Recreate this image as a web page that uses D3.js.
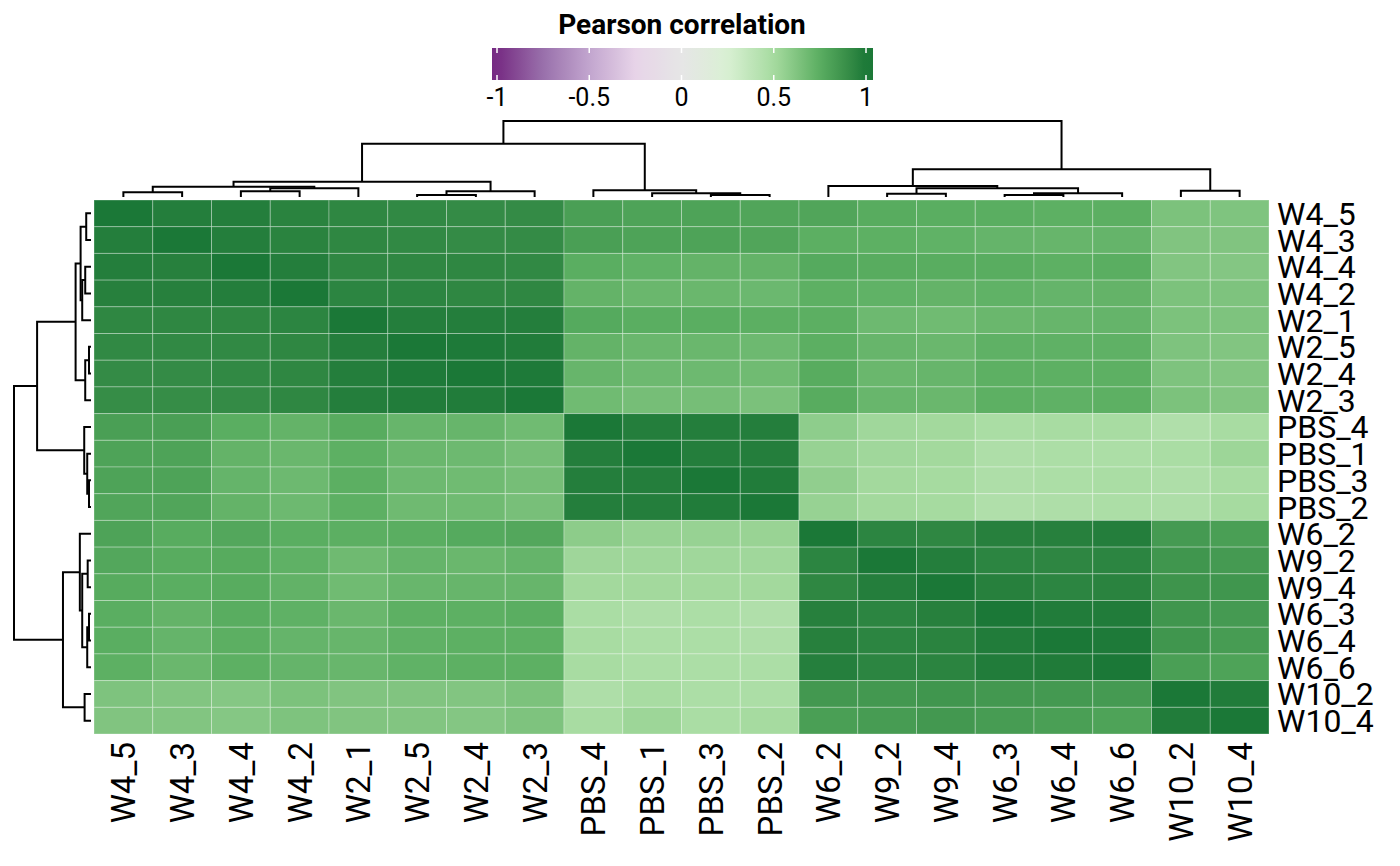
<!DOCTYPE html>
<html>
<head>
<meta charset="utf-8">
<script src="https://cdn.jsdelivr.net/npm/d3@7"></script>
<style>
  body { margin: 0; background: #fff; }
  text { font-family: Roboto, "Noto Sans", sans-serif; fill: #000; }
</style>
</head>
<body>
<div id="chart"></div>
<script>
// sample order (rows and columns share the clustered order)
var samples = ["W4_5", "W4_3", "W4_4", "W4_2", "W2_1", "W2_5", "W2_4", "W2_3",
               "PBS_4", "PBS_1", "PBS_3", "PBS_2",
               "W6_2", "W9_2", "W9_4", "W6_3", "W6_4", "W6_6", "W10_2", "W10_4"]

// correlation matrix, row by row
var corValues = [
  [1.00,0.97,0.97,0.95,0.93,0.92,0.91,0.91,0.82,0.80,0.80,0.79,0.79,0.76,0.75,0.75,0.74,0.745,0.64,0.63],
  [0.97,1.00,0.97,0.95,0.93,0.92,0.91,0.91,0.82,0.80,0.80,0.79,0.745,0.74,0.73,0.715,0.71,0.715,0.625,0.625],
  [0.97,0.96,1.00,0.97,0.93,0.93,0.93,0.92,0.75,0.73,0.72,0.72,0.77,0.76,0.755,0.755,0.74,0.75,0.62,0.615],
  [0.96,0.96,0.97,1.00,0.94,0.94,0.93,0.93,0.72,0.70,0.70,0.695,0.74,0.73,0.72,0.73,0.715,0.72,0.64,0.635],
  [0.93,0.93,0.93,0.94,1.00,0.97,0.97,0.97,0.77,0.75,0.75,0.745,0.745,0.69,0.68,0.70,0.71,0.715,0.64,0.635],
  [0.92,0.92,0.92,0.93,0.97,1.00,0.99,0.98,0.72,0.70,0.70,0.69,0.745,0.71,0.70,0.735,0.735,0.735,0.635,0.62],
  [0.91,0.91,0.92,0.93,0.97,0.99,1.00,0.99,0.71,0.69,0.69,0.68,0.76,0.70,0.71,0.74,0.74,0.74,0.635,0.62],
  [0.90,0.90,0.91,0.93,0.97,0.98,0.98,1.00,0.68,0.66,0.66,0.645,0.76,0.705,0.70,0.74,0.735,0.74,0.64,0.62],
  [0.82,0.82,0.75,0.72,0.76,0.71,0.71,0.68,1.00,0.97,0.97,0.97,0.58,0.52,0.51,0.48,0.49,0.49,0.45,0.49],
  [0.80,0.80,0.72,0.70,0.74,0.70,0.69,0.66,0.97,1.00,0.97,0.97,0.55,0.52,0.51,0.46,0.47,0.47,0.48,0.53],
  [0.80,0.80,0.715,0.69,0.745,0.69,0.68,0.66,0.97,0.97,1.00,0.98,0.57,0.51,0.50,0.46,0.47,0.48,0.46,0.49],
  [0.79,0.79,0.72,0.69,0.74,0.685,0.68,0.655,0.97,0.97,0.98,1.00,0.55,0.51,0.50,0.45,0.46,0.47,0.46,0.50],
  [0.80,0.76,0.78,0.75,0.745,0.75,0.77,0.78,0.585,0.55,0.55,0.545,1.00,0.94,0.93,0.96,0.96,0.97,0.84,0.82],
  [0.78,0.76,0.765,0.735,0.685,0.715,0.70,0.715,0.525,0.52,0.52,0.52,0.94,1.00,0.97,0.94,0.935,0.94,0.86,0.84],
  [0.765,0.75,0.76,0.725,0.68,0.705,0.71,0.71,0.51,0.51,0.51,0.51,0.93,0.97,1.00,0.96,0.94,0.95,0.87,0.86],
  [0.75,0.72,0.755,0.735,0.70,0.74,0.74,0.75,0.48,0.46,0.47,0.45,0.96,0.94,0.96,1.00,0.98,0.98,0.86,0.84],
  [0.75,0.715,0.745,0.715,0.71,0.735,0.74,0.74,0.49,0.47,0.47,0.46,0.96,0.94,0.95,0.98,1.00,0.99,0.86,0.83],
  [0.74,0.70,0.74,0.715,0.705,0.73,0.74,0.74,0.49,0.47,0.47,0.47,0.965,0.94,0.945,0.98,0.985,1.00,0.82,0.80],
  [0.635,0.62,0.61,0.64,0.625,0.625,0.62,0.64,0.46,0.49,0.47,0.47,0.85,0.85,0.86,0.85,0.845,0.84,1.00,0.98],
  [0.625,0.62,0.61,0.635,0.625,0.62,0.615,0.635,0.49,0.53,0.48,0.50,0.82,0.83,0.85,0.83,0.82,0.80,0.98,1.00]
]

// hierarchical clustering merges: [child A, child B, merge height]
// children are sample names or "m" + index of an earlier merge
var merges = [
  ["W4_5", "W4_3", 0.062],   // m0
  ["W4_4", "W4_2", 0.075],   // m1
  ["m1", "W2_1", 0.114],     // m2
  ["m0", "m2", 0.135],       // m3
  ["W2_5", "W2_4", 0.026],   // m4
  ["m4", "W2_3", 0.075],     // m5
  ["m3", "m5", 0.20],        // m6
  ["PBS_3", "PBS_2", 0.026], // m7
  ["PBS_1", "m7", 0.049],    // m8
  ["PBS_4", "m8", 0.088],    // m9
  ["m6", "m9", 0.70],        // m10
  ["W9_2", "W9_4", 0.043],   // m11
  ["W6_3", "W6_4", 0.026],   // m12
  ["m12", "W6_6", 0.049],    // m13
  ["m11", "m13", 0.114],     // m14
  ["W6_2", "m14", 0.145],    // m15
  ["W10_2", "W10_4", 0.083], // m16
  ["m15", "m16", 0.364],     // m17
  ["m10", "m17", 1.0]        // m18
]

var legendTicks = [-1, -0.5, 0, 0.5, 1]
var colorStops = [-1, -0.75, -0.5, -0.25, 0, 0.25, 0.5, 0.75, 1]
var colorRange = ["#762a83", "#9970ab", "#c2a5cf", "#e7d4e8", "#e6e6e6", "#d9f0d3", "#a6dba0", "#5aae61", "#1b7837"]

var width = 1400, height = 866

var svg = d3.select("#chart").append("svg")
  .attr("width", width)
  .attr("height", height)

var color = d3.scaleLinear()
  .domain(colorStops)
  .range(colorRange)
  .interpolate(d3.interpolateLab)
  .clamp(true)

var x = d3.scaleBand().domain(samples).range([94, 1269])
var y = d3.scaleBand().domain(samples).range([200, 734])

// heatmap cells
var cells = []
corValues.forEach(function(row, i) {
  row.forEach(function(v, j) {
    cells.push({ r: samples[i], c: samples[j], v: v })
  })
})

svg.append("g")
  .selectAll("rect")
  .data(cells).enter()
  .append("rect")
  .attr("x", function(d) { return x(d.c) })
  .attr("y", function(d) { return y(d.r) })
  .attr("width", x.bandwidth())
  .attr("height", y.bandwidth())
  .attr("fill", function(d) { return color(d.v) })
  .attr("stroke", "#ffffff")
  .attr("stroke-opacity", 0.3)
  .attr("stroke-width", 1)

// dendrogram node positions
function nodeInfo(name, scale) {
  if (name.charAt(0) == "m" && !isNaN(+name.slice(1))) {
    var m = merges[+name.slice(1)]
    var a = nodeInfo(m[0], scale), b = nodeInfo(m[1], scale)
    return { p: (a.p + b.p) / 2, h: m[2] }
  }
  return { p: scale(name) + scale.bandwidth() / 2, h: 0 }
}

var hTop = d3.scaleLinear().domain([0, 1]).range([197, 121])
var hLeft = d3.scaleLinear().domain([0, 1]).range([91, 14])

svg.append("g")
  .selectAll("path")
  .data(merges).enter()
  .append("path")
  .attr("d", function(m) {
    var a = nodeInfo(m[0], x), b = nodeInfo(m[1], x)
    return "M" + a.p + "," + hTop(a.h) + "V" + hTop(m[2]) + "H" + b.p + "V" + hTop(b.h)
  })
  .attr("fill", "none")
  .attr("stroke", "#000")
  .attr("stroke-width", 2)

svg.append("g")
  .selectAll("path")
  .data(merges).enter()
  .append("path")
  .attr("d", function(m) {
    var a = nodeInfo(m[0], y), b = nodeInfo(m[1], y)
    return "M" + hLeft(a.h) + "," + a.p + "H" + hLeft(m[2]) + "V" + b.p + "H" + hLeft(b.h)
  })
  .attr("fill", "none")
  .attr("stroke", "#000")
  .attr("stroke-width", 2)

// row labels
svg.append("g")
  .selectAll("text")
  .data(samples).enter()
  .append("text")
  .attr("x", 1277)
  .attr("y", function(d) { return y(d) + y.bandwidth() / 2 })
  .attr("dy", "0.36em")
  .style("font-size", "32px")
  .text(function(d) { return d })

// column labels
svg.append("g")
  .selectAll("text")
  .data(samples).enter()
  .append("text")
  .attr("transform", function(d) { return "translate(" + (x(d) + x.bandwidth() / 2) + ",742) rotate(-90)" })
  .attr("dy", "0.36em")
  .attr("text-anchor", "end")
  .style("font-size", "33px")
  .text(function(d) { return d })

// colour legend
var lx = d3.scaleLinear().domain([-1, 1]).range([497, 866])
var grad = svg.append("defs").append("linearGradient")
  .attr("id", "corgrad")
  .attr("gradientUnits", "userSpaceOnUse")
  .attr("x1", 492).attr("x2", 873)
grad.selectAll("stop")
  .data(d3.range(0, 41)).enter()
  .append("stop")
  .attr("offset", function(i) { return i / 40 })
  .attr("stop-color", function(i) { return color(lx.invert(492 + i / 40 * 381)) })

svg.append("rect")
  .attr("x", 492).attr("y", 48)
  .attr("width", 381).attr("height", 32)
  .attr("fill", "url(#corgrad)")

var tk = svg.append("g").selectAll("g")
  .data(legendTicks).enter()
  .append("g")
tk.append("line")
  .attr("x1", function(d) { return lx(d) }).attr("x2", function(d) { return lx(d) })
  .attr("y1", 48).attr("y2", 53)
  .attr("stroke", "#fff").attr("stroke-width", 1.5)
tk.append("line")
  .attr("x1", function(d) { return lx(d) }).attr("x2", function(d) { return lx(d) })
  .attr("y1", 75).attr("y2", 80)
  .attr("stroke", "#fff").attr("stroke-width", 1.5)
tk.append("text")
  .attr("x", function(d) { return lx(d) })
  .attr("y", 106)
  .attr("text-anchor", "middle")
  .style("font-size", "25px")
  .text(function(d) { return d })

svg.append("text")
  .attr("x", 682)
  .attr("y", 34)
  .attr("text-anchor", "middle")
  .style("font-size", "28px")
  .style("font-weight", "bold")
  .text("Pearson correlation")
</script>
</body>
</html>
